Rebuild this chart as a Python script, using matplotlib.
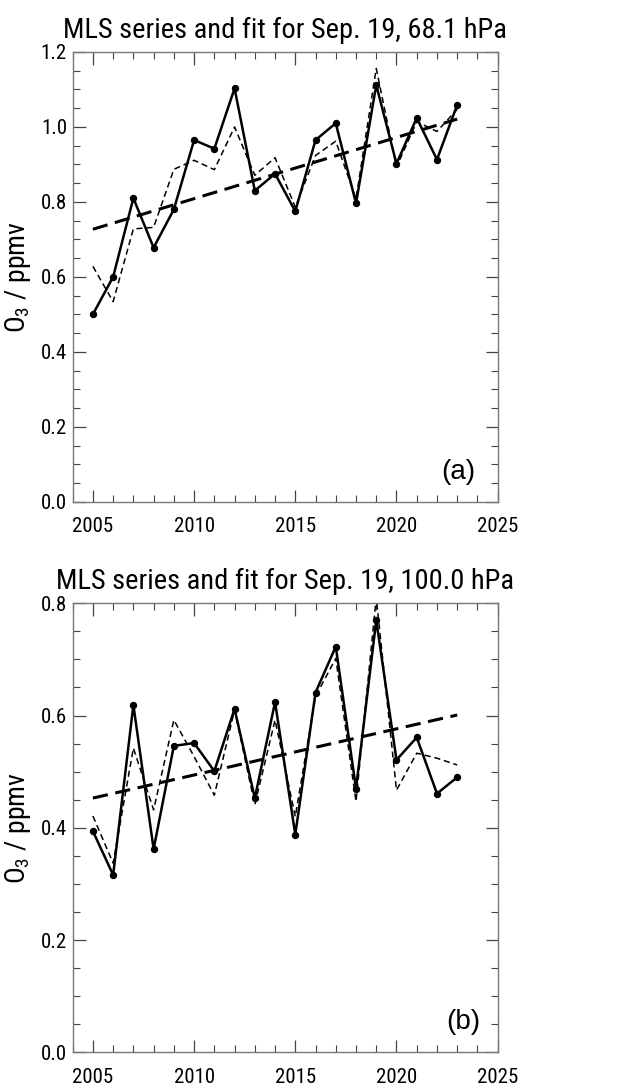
import numpy as np
import matplotlib
matplotlib.use('Agg')
import matplotlib.pyplot as plt
from matplotlib.ticker import MultipleLocator

plt.rcParams['font.family'] = ['Roboto Condensed', 'Liberation Sans', 'DejaVu Sans']
plt.rcParams['mathtext.default'] = 'regular'

years = np.arange(2005, 2024)

# 68.1 hPa: MLS series, fitted model, linear trend end points
obs_68 = [0.500, 0.600, 0.810, 0.678, 0.780, 0.965, 0.942, 1.103, 0.830, 0.875,
          0.775, 0.965, 1.010, 0.796, 1.112, 0.902, 1.024, 0.913, 1.059]
fit_68 = [0.628, 0.534, 0.728, 0.732, 0.887, 0.911, 0.886, 1.000, 0.871, 0.918,
          0.786, 0.924, 0.962, 0.808, 1.156, 0.893, 1.014, 0.988, 1.047]
trend_68 = [0.727, 1.021]

# 100.0 hPa
obs_100 = [0.394, 0.316, 0.619, 0.362, 0.546, 0.551, 0.501, 0.612, 0.453, 0.624,
           0.388, 0.641, 0.723, 0.470, 0.770, 0.521, 0.561, 0.461, 0.490]
fit_100 = [0.421, 0.337, 0.542, 0.432, 0.592, 0.527, 0.458, 0.610, 0.441, 0.592,
           0.420, 0.634, 0.702, 0.447, 0.810, 0.467, 0.533, 0.524, 0.512]
trend_100 = [0.453, 0.601]

panels = [
    ('MLS series and fit for Sep. 19, 68.1 hPa', obs_68, fit_68, trend_68, 1.2, '(a)',
     [0.113, 0.5397, 0.661, 0.4126], (0.907, 0.066)),
    ('MLS series and fit for Sep. 19, 100.0 hPa', obs_100, fit_100, trend_100, 0.8, '(b)',
     [0.113, 0.0346, 0.661, 0.4119], (0.918, 0.067)),
]

fig = plt.figure(figsize=(6.43, 10.9), dpi=100)

for title, obs, fit, trend, ymax, tag, pos, tagxy in panels:
    ax = fig.add_axes(pos)
    ax.plot(years, fit, color='black', lw=1.1, ls=(0, (4, 2.5)))
    ax.plot(years, obs, color='black', lw=1.8, marker='o', ms=4.3)
    slope = (trend[1] - trend[0]) / (years[-1] - years[0])
    ax.plot(years, trend[0] + slope * (years - years[0]), color='black', lw=2.2,
            ls=(0, (5, 2.5)))

    ax.set_xlim(2004, 2025)
    ax.set_ylim(0, ymax)
    ax.xaxis.set_major_locator(MultipleLocator(5))
    ax.xaxis.set_minor_locator(MultipleLocator(1))
    ax.yaxis.set_major_locator(MultipleLocator(0.2))
    ax.yaxis.set_minor_locator(MultipleLocator(0.05))
    ax.yaxis.set_major_formatter(lambda v, p: f'{v:.1f}')
    ax.tick_params(which='both', direction='in', top=True, right=True,
                   color='#444444', labelsize=15)
    ax.tick_params(which='major', length=9, width=0.9)
    ax.tick_params(which='minor', length=5, width=0.8)
    ax.tick_params(axis='x', pad=11)
    ax.tick_params(axis='y', pad=4)
    for s in ax.spines.values():
        s.set_color('#777777')
        s.set_linewidth(1.0)

    ax.set_title(title, fontsize=20.5, pad=10)
    ax.set_ylabel('O$_3$ / ppmv', fontsize=20)
    ax.yaxis.set_label_coords(-0.093, 0.5)
    ax.text(*tagxy, tag, transform=ax.transAxes, fontsize=20,
            family=['Liberation Sans', 'DejaVu Sans'], ha='center', va='center')

fig.savefig('out.png', dpi=100)
